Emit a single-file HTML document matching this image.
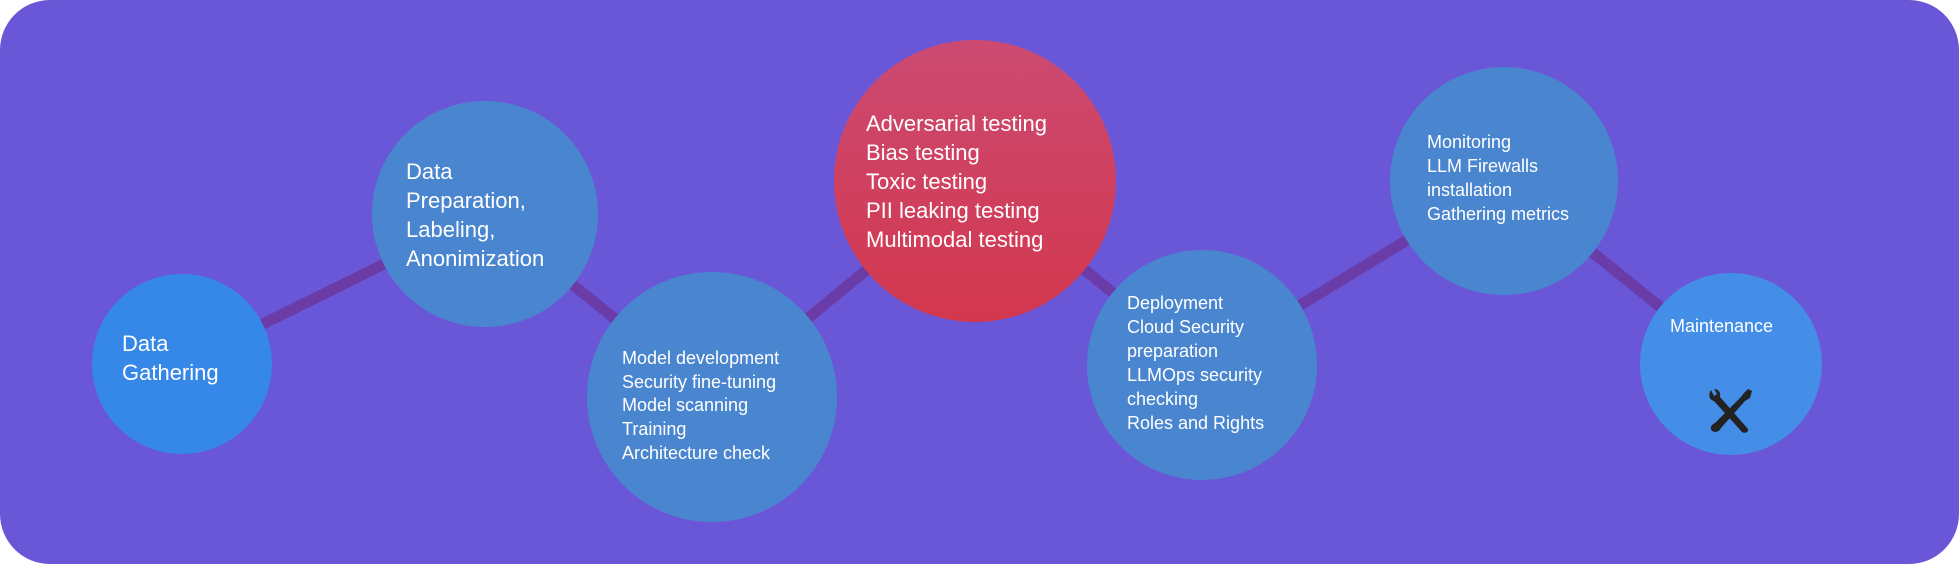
<!DOCTYPE html>
<html><head><meta charset="utf-8"><style>
html,body{margin:0;padding:0;background:#fff;}
#wrap{position:relative;width:1959px;height:564px;background:#6a57d8;border-radius:50px;overflow:hidden;font-family:"Liberation Sans",sans-serif;}
svg{position:absolute;left:0;top:0;}
.t{position:absolute;color:#fff;white-space:nowrap;}
.big{font-size:22px;line-height:29px;}
.sm{font-size:18px;line-height:24px;}
</style></head><body>
<div id="wrap">
<svg width="1959" height="564">
<defs><linearGradient id="rg" x1="0" y1="0" x2="0" y2="1"><stop offset="0" stop-color="#cc4a72"/><stop offset="1" stop-color="#d3374e"/></linearGradient></defs>
<g id="lines"></g><g id="circles"></g>
</svg>
<div class="t big" style="left:122px;top:329px">Data<br>Gathering</div>
<div class="t big" style="left:406px;top:157px">Data<br>Preparation,<br>Labeling,<br>Anonimization</div>
<div class="t sm" style="left:622px;top:347px;line-height:23.7px">Model development<br>Security fine-tuning<br>Model scanning<br>Training<br>Architecture check</div>
<div class="t big" style="left:866px;top:109px">Adversarial testing<br>Bias testing<br>Toxic testing<br>PII leaking testing<br>Multimodal testing</div>
<div class="t sm" style="left:1127px;top:291px">Deployment<br>Cloud Security<br>preparation<br>LLMOps security<br>checking<br>Roles and Rights</div>
<div class="t sm" style="left:1427px;top:130px">Monitoring<br>LLM Firewalls<br>installation<br>Gathering metrics</div>
<div class="t sm" style="left:1670px;top:314px">Maintenance</div>
<svg width="46" height="46" viewBox="0 0 46 46" style="left:1708px;top:388px">
<path d="M3 2 C0 6 1 12 6 13 L34 44 C37 46 41 44 40 41 L12 9 C13 4 10 1 6 1 L9 6 L6 8 Z" fill="#222"/>
<path d="M40 1 L44 3 L42 10 L37 13 L13 40 C11 45 4 45 3 41 C2 38 5 36 7 35 L33 9 L36 5 Z" fill="#222"/>
</svg>
</div>
<script>
const stages=["gathering","preparation","development","testing","deployment","monitoring","maintenance"];
const cx=[182,485,712,975,1202,1504,1731];
const cy=[364,214,397,181,365,181,364];
const rr=[90,113,125,141,115,114,91];
const fills=["#3587e8","#4a85cf","#4a85cf","url(#rg)","#4a85cf","#4a85cf","#448ee8"];
const NS="http://www.w3.org/2000/svg";
const lg=document.getElementById('lines'),cg=document.getElementById('circles');
for(let i=0;i<stages.length-1;i++){
 const l=document.createElementNS(NS,'line');
 l.setAttribute('x1',cx[i]);l.setAttribute('y1',cy[i]);l.setAttribute('x2',cx[i+1]);l.setAttribute('y2',cy[i+1]);
 l.setAttribute('stroke','#6a3ca8');l.setAttribute('stroke-width','11');
 
 
 lg.appendChild(l);
}
for(let i=0;i<stages.length;i++){
 const c=document.createElementNS(NS,'circle');
 c.setAttribute('cx',cx[i]);c.setAttribute('cy',cy[i]);c.setAttribute('r',rr[i]);c.setAttribute('fill',fills[i]);
 
 
 cg.appendChild(c);
}
</script>
</body></html>
